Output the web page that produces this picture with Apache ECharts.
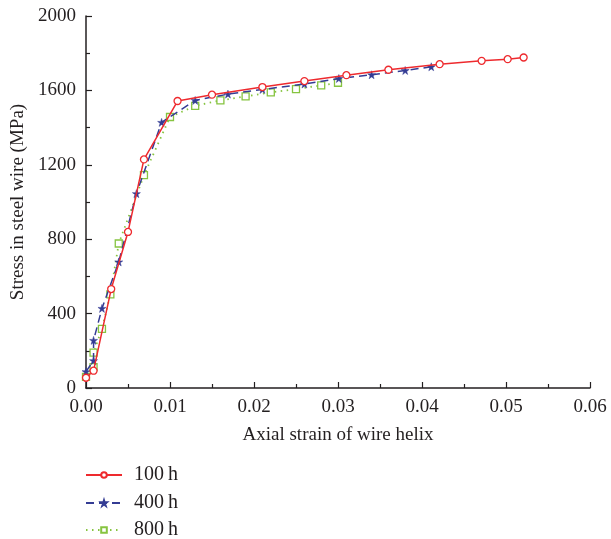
<!DOCTYPE html>
<html>
<head>
<meta charset="utf-8">
<script src="https://cdn.jsdelivr.net/npm/echarts@6/dist/echarts.min.js"></script>
<style>html,body{margin:0;padding:0;background:#fff}#c{width:611px;height:539px}</style>
</head>
<body>
<div id="c"></div>
<script>
var seriesNames = ['100\u2009h', '400\u2009h', '800\u2009h'];
var x100 = [0, 0.0009, 0.003, 0.005, 0.0069, 0.0109, 0.015, 0.021, 0.026, 0.031, 0.036, 0.0421, 0.0471, 0.0502, 0.0521];
var y100 = [55, 93, 532, 839, 1229, 1543, 1577, 1618, 1650, 1682, 1711, 1741, 1759, 1768, 1777];
var x400 = [0, 0.0009, 0.0009, 0.0019, 0.0039, 0.006, 0.009, 0.013, 0.0169, 0.021, 0.026, 0.0301, 0.034, 0.038, 0.0411];
var y400 = [88, 147, 256, 428, 678, 1045, 1428, 1546, 1580, 1605, 1634, 1664, 1684, 1707, 1727];
var x800 = [0, 0.0009, 0.0009, 0.0019, 0.0029, 0.0039, 0.0069, 0.010, 0.013, 0.016, 0.019, 0.022, 0.025, 0.028, 0.030];
var y800 = [60, 112, 190, 318, 503, 777, 1144, 1457, 1517, 1546, 1568, 1589, 1607, 1627, 1641];
var xTicks = [0, 0.01, 0.02, 0.03, 0.04, 0.05, 0.06];
var yTicks = [0, 400, 800, 1200, 1600, 2000];

function zip(xs, ys) { return xs.map(function (v, i) { return [v, ys[i]]; }); }

var FONT = '"Liberation Serif", "DejaVu Serif", serif';
var RED = '#ee2a2e', BLUE = '#343c94', GREEN = '#86c440';
var STAR = 'path://M12,0 L14.8,8.6 L24,8.6 L16.6,14 L19.4,22.8 L12,17.4 L4.6,22.8 L7.4,14 L0,8.6 L9.2,8.6 Z';

var legendTops = [465, 493, 520];
var legends = seriesNames.map(function (n, i) {
  return {
    orient: 'vertical', left: 85, top: legendTops[i], padding: 0,
    itemWidth: 36, itemHeight: 7, itemGap: 0,
    textStyle: {fontFamily: FONT, fontSize: 20, lineHeight: 20, color: '#231f20', padding: [0, 0, 0, 7]},
    data: [n]
  };
});

var chart = echarts.init(document.getElementById('c'), null, {renderer: 'canvas'});
chart.setOption({
  backgroundColor: '#fff',
  animation: false,
  grid: {left: 86, right: 21, top: 16, bottom: 151},
  xAxis: {
    type: 'value', min: xTicks[0], max: xTicks[xTicks.length - 1], interval: 0.01,
    name: 'Axial strain of wire helix', nameLocation: 'middle', nameGap: 38,
    nameTextStyle: {fontFamily: FONT, fontSize: 19, color: '#231f20'},
    axisLine: {lineStyle: {color: '#231f20', width: 1.5}},
    axisTick: {inside: true, length: 6, lineStyle: {color: '#231f20', width: 1.2}},
    minorTick: {show: true, splitNumber: 2, length: 4, lineStyle: {color: '#231f20', width: 1.2}},
    axisLabel: {fontFamily: FONT, fontSize: 19, color: '#231f20', margin: 10,
      formatter: function (v) { return v.toFixed(2); }},
    splitLine: {show: false}
  },
  yAxis: {
    type: 'value', min: yTicks[0], max: yTicks[yTicks.length - 1], interval: 400,
    name: 'Stress in steel wire (MPa)', nameLocation: 'middle', nameGap: 57,
    nameTextStyle: {fontFamily: FONT, fontSize: 19, color: '#231f20'},
    axisLine: {show: true, lineStyle: {color: '#231f20', width: 1.5}},
    axisTick: {show: true, inside: true, length: 6, lineStyle: {color: '#231f20', width: 1.2}},
    minorTick: {show: true, splitNumber: 2, length: 4, lineStyle: {color: '#231f20', width: 1.2}},
    axisLabel: {fontFamily: FONT, fontSize: 19, color: '#231f20', margin: 10,
      formatter: function (v) { return String(v); }},
    splitLine: {show: false}
  },
  legend: legends,
  series: [
    {
      name: seriesNames[0], type: 'line', data: zip(x100, y100),
      symbol: 'circle', symbolSize: 7, showSymbol: true,
      lineStyle: {color: RED, width: 1.5, type: 'solid'},
      itemStyle: {color: '#fff', borderColor: RED, borderWidth: 1.3},
      z: 3
    },
    {
      name: seriesNames[1], type: 'line', data: zip(x400, y400),
      symbol: STAR, symbolSize: 8,
      lineStyle: {color: BLUE, width: 1.5, type: [8, 5]},
      itemStyle: {color: BLUE, borderColor: BLUE, borderWidth: 0.5},
      z: 2
    },
    {
      name: seriesNames[2], type: 'line', data: zip(x800, y800),
      symbol: 'rect', symbolSize: 7,
      lineStyle: {color: GREEN, width: 1.8, type: [1.5, 4.5]},
      itemStyle: {color: '#fff', borderColor: GREEN, borderWidth: 1.3},
      z: 1
    }
  ]
});
</script>
</body>
</html>
